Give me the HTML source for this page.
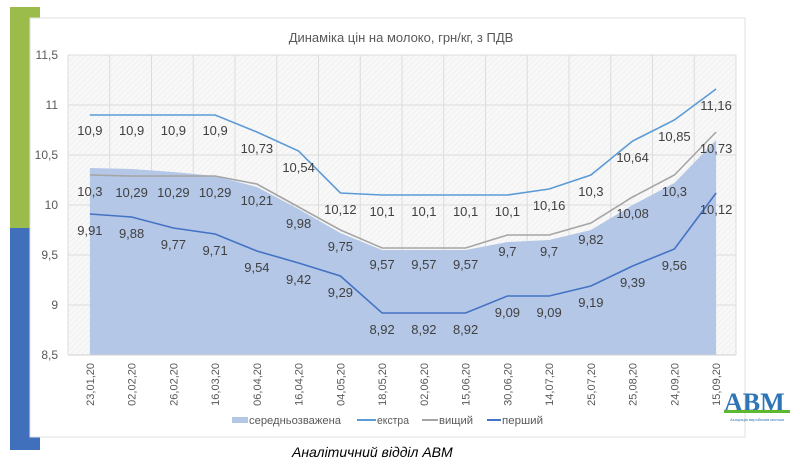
<!DOCTYPE html>
<html><head><meta charset="utf-8"><style>
body{margin:0;width:800px;height:463px;background:#fff;overflow:hidden;font-family:"Liberation Sans","DejaVu Sans",sans-serif}
</style></head><body>
<svg width="800" height="463" viewBox="0 0 800 463" xmlns="http://www.w3.org/2000/svg" font-family="Liberation Sans, DejaVu Sans, sans-serif">
<defs>
<pattern id="h" width="4" height="4" patternUnits="userSpaceOnUse" patternTransform="rotate(45)">
<rect width="4" height="4" fill="#f8f8f8"/><line x1="0" y1="0" x2="0" y2="4" stroke="#ececec" stroke-width="1.2"/>
</pattern>
</defs>
<rect x="10" y="7" width="30" height="222" fill="#9bbb4a"/>
<rect x="10" y="228" width="30" height="222" fill="#4070bb"/>
<rect x="30" y="18" width="715" height="419" fill="#fff" stroke="#e0e0e0"/>
<text x="401" y="42" text-anchor="middle" font-size="13" fill="#595959">Динаміка цін на молоко, грн/кг, з ПДВ</text>
<rect x="68" y="55" width="668" height="300" fill="url(#h)"/>
<g stroke="#dcdcdc" stroke-width="1">
<line x1="68" y1="55" x2="736" y2="55"/><line x1="68" y1="105" x2="736" y2="105"/><line x1="68" y1="155" x2="736" y2="155"/><line x1="68" y1="205" x2="736" y2="205"/><line x1="68" y1="255" x2="736" y2="255"/><line x1="68" y1="305" x2="736" y2="305"/>
<line x1="68" y1="55" x2="68" y2="355"/><line x1="109.75" y1="55" x2="109.75" y2="355"/><line x1="151.5" y1="55" x2="151.5" y2="355"/><line x1="193.25" y1="55" x2="193.25" y2="355"/><line x1="235" y1="55" x2="235" y2="355"/><line x1="276.75" y1="55" x2="276.75" y2="355"/><line x1="318.5" y1="55" x2="318.5" y2="355"/><line x1="360.25" y1="55" x2="360.25" y2="355"/><line x1="402" y1="55" x2="402" y2="355"/><line x1="443.75" y1="55" x2="443.75" y2="355"/><line x1="485.5" y1="55" x2="485.5" y2="355"/><line x1="527.25" y1="55" x2="527.25" y2="355"/><line x1="569" y1="55" x2="569" y2="355"/><line x1="610.75" y1="55" x2="610.75" y2="355"/><line x1="652.5" y1="55" x2="652.5" y2="355"/><line x1="694.25" y1="55" x2="694.25" y2="355"/><line x1="736" y1="55" x2="736" y2="355"/>
</g>
<g font-size="12" fill="#595959" text-anchor="end">
<text x="58" y="59">11,5</text><text x="58" y="109">11</text><text x="58" y="159">10,5</text><text x="58" y="209">10</text><text x="58" y="259">9,5</text><text x="58" y="309">9</text><text x="58" y="359">8,5</text>
</g>
<polygon fill="#b4c7e7" points="89.9,355 89.9,168 131.6,169 173.4,172 215.1,176 256.9,187 298.6,209 340.4,233 382.1,250 423.9,250 465.6,250 507.4,242 549.1,240 590.9,230 632.6,205 674.4,183 716.1,140 716.1,355"/>
<line x1="68" y1="355" x2="736" y2="355" stroke="#d0d0d0"/>
<g fill="none" stroke-width="1.6">
<polyline stroke="#5b9bd5" points="89.9,115 131.6,115 173.4,115 215.1,115 256.9,132 298.6,151 340.4,193 382.1,195 423.9,195 465.6,195 507.4,195 549.1,189 590.9,175 632.6,141 674.4,120 716.1,89"/>
<polyline stroke="#a5a5a5" points="89.9,175 131.6,176 173.4,176 215.1,176 256.9,184 298.6,207 340.4,230 382.1,248 423.9,248 465.6,248 507.4,235 549.1,235 590.9,223 632.6,197 674.4,175 716.1,132"/>
<polyline stroke="#4472c4" points="89.9,214 131.6,217 173.4,228 215.1,234 256.9,251 298.6,263 340.4,276 382.1,313 423.9,313 465.6,313 507.4,296 549.1,296 590.9,286 632.6,266 674.4,249 716.1,193"/>
</g>
<g font-size="13" fill="#404040" text-anchor="middle">
<text x="89.9" y="135">10,9</text><text x="131.6" y="135">10,9</text><text x="173.4" y="135">10,9</text><text x="215.1" y="135">10,9</text><text x="256.9" y="153">10,73</text><text x="298.6" y="172">10,54</text><text x="340.4" y="214">10,12</text><text x="382.1" y="216">10,1</text><text x="423.9" y="216">10,1</text><text x="465.6" y="216">10,1</text><text x="507.4" y="216">10,1</text><text x="549.1" y="210">10,16</text><text x="590.9" y="196">10,3</text><text x="632.6" y="162">10,64</text><text x="674.4" y="141">10,85</text><text x="716.1" y="110">11,16</text>
<text x="89.9" y="196">10,3</text><text x="131.6" y="197">10,29</text><text x="173.4" y="197">10,29</text><text x="215.1" y="197">10,29</text><text x="256.9" y="205">10,21</text><text x="298.6" y="228">9,98</text><text x="340.4" y="251">9,75</text><text x="382.1" y="269">9,57</text><text x="423.9" y="269">9,57</text><text x="465.6" y="269">9,57</text><text x="507.4" y="256">9,7</text><text x="549.1" y="256">9,7</text><text x="590.9" y="244">9,82</text><text x="632.6" y="218">10,08</text><text x="674.4" y="196">10,3</text><text x="716.1" y="153">10,73</text>
<text x="89.9" y="235">9,91</text><text x="131.6" y="238">9,88</text><text x="173.4" y="249">9,77</text><text x="215.1" y="255">9,71</text><text x="256.9" y="272">9,54</text><text x="298.6" y="284">9,42</text><text x="340.4" y="297">9,29</text><text x="382.1" y="334">8,92</text><text x="423.9" y="334">8,92</text><text x="465.6" y="334">8,92</text><text x="507.4" y="317">9,09</text><text x="549.1" y="317">9,09</text><text x="590.9" y="307">9,19</text><text x="632.6" y="287">9,39</text><text x="674.4" y="270">9,56</text><text x="716.1" y="214">10,12</text>
</g>
<g font-size="11" fill="#595959" text-anchor="end">
<text transform="translate(94,363) rotate(-90)">23,01,20</text><text transform="translate(135.7,363) rotate(-90)">02,02,20</text><text transform="translate(177.5,363) rotate(-90)">26,02,20</text><text transform="translate(219.2,363) rotate(-90)">16,03,20</text><text transform="translate(261,363) rotate(-90)">06,04,20</text><text transform="translate(302.7,363) rotate(-90)">16,04,20</text><text transform="translate(344.5,363) rotate(-90)">04,05,20</text><text transform="translate(386.2,363) rotate(-90)">18,05,20</text><text transform="translate(428,363) rotate(-90)">02,06,20</text><text transform="translate(469.7,363) rotate(-90)">15,06,20</text><text transform="translate(511.5,363) rotate(-90)">30,06,20</text><text transform="translate(553.2,363) rotate(-90)">14,07,20</text><text transform="translate(595,363) rotate(-90)">25,07,20</text><text transform="translate(636.7,363) rotate(-90)">25,08,20</text><text transform="translate(678.5,363) rotate(-90)">24,09,20</text><text transform="translate(720.2,363) rotate(-90)">15,09,20</text>
</g>
<g font-size="11" fill="#595959">
<rect x="232" y="417" width="16" height="6" fill="#b4c7e7"/><text x="249" y="424" textLength="92" lengthAdjust="spacingAndGlyphs">середньозважена</text>
<line x1="357" y1="420" x2="376" y2="420" stroke="#5b9bd5" stroke-width="2"/><text x="377" y="424" textLength="32" lengthAdjust="spacingAndGlyphs">екстра</text>
<line x1="422" y1="420" x2="438" y2="420" stroke="#a5a5a5" stroke-width="2"/><text x="439" y="424" textLength="34" lengthAdjust="spacingAndGlyphs">вищий</text>
<line x1="487" y1="420" x2="501" y2="420" stroke="#4472c4" stroke-width="2"/><text x="502" y="424" textLength="41" lengthAdjust="spacingAndGlyphs">перший</text>
</g>
<text x="724" y="411" font-family="Liberation Serif, serif" font-weight="bold" font-size="26" fill="#2e75b6">АВМ</text>
<rect x="724" y="410" width="66" height="3" fill="#5cb82e"/>
<text x="757" y="421" text-anchor="middle" font-size="4" fill="#2e75b6">Асоціація виробників молока</text>
<text x="292" y="457" font-size="14" font-style="italic" fill="#000">Аналітичний відділ АВМ</text>
</svg>
</body></html>
